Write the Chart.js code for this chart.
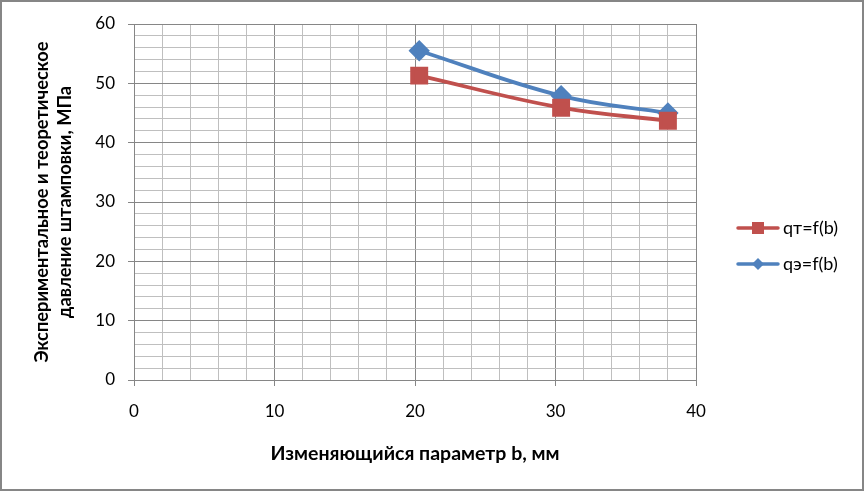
<!DOCTYPE html>
<html>
<head>
<meta charset="utf-8">
<script src="https://cdn.jsdelivr.net/npm/chart.js@4.4.1/dist/chart.umd.min.js"></script>
<style>
  html, body { margin: 0; padding: 0; background: #fff; }
  #wrap { width: 865px; height: 492px; }
</style>
</head>
<body>
<div id="wrap"><canvas id="chart" width="865" height="492"></canvas></div>
<script>
// values
const bValues = [20.3, 30.4, 38.0];
const qT = [51.3, 45.9, 43.7];
const qE = [55.5, 47.9, 45.0];
const seriesNames = ["qт=f(b)", "qэ=f(b)"];
const xTitle = "Изменяющийся параметр b, мм";
const yTitle = ["Экспериментальное и теоретическое", "давление штамповки, МПа"];

const red = "#C0504D";
const blue = "#4F81BD";
const fontFamily = "Lato, 'Open Sans', sans-serif";

function toPoints(xs, ys) {
    return xs.map((x, i) => ({ x: x, y: ys[i] }));
}

// legend drawn like the office one: line with marker in the middle
const legendAndFrame = {
    id: 'legendAndFrame',
    afterDraw(chart) {
        const ctx = chart.ctx;
        ctx.save();
        ctx.strokeStyle = "#868686";
        ctx.lineWidth = 2;
        ctx.strokeRect(1, 1, 862, 489);

        const rows = [228, 264];
        chart.data.datasets.forEach((ds, i) => {
            const y = rows[i];
            ctx.strokeStyle = ds.borderColor;
            ctx.lineWidth = 3.5;
            ctx.lineCap = "round";
            ctx.beginPath();
            ctx.moveTo(738, y);
            ctx.lineTo(778, y);
            ctx.stroke();
            ctx.fillStyle = ds.borderColor;
            if (ds.pointStyle === 'rect') {
                ctx.fillRect(752, y - 6, 12, 12);
            } else {
                ctx.beginPath();
                ctx.moveTo(758, y - 6);
                ctx.lineTo(764, y);
                ctx.lineTo(758, y + 6);
                ctx.lineTo(752, y);
                ctx.closePath();
                ctx.fill();
            }
            ctx.fillStyle = "#000";
            ctx.font = "18px " + fontFamily;
            ctx.textBaseline = "middle";
            ctx.fillText(ds.label, 783, y);
        });
        ctx.restore();
    }
};

const isMajor = v => Math.abs(v % 10) < 1e-6;

const ctx = document.getElementById('chart').getContext('2d');
const chart = new Chart(ctx, {
    type: 'scatter',
    data: {
        datasets: [
            {
                label: seriesNames[0],
                data: toPoints(bValues, qT),
                showLine: true,
                borderColor: red,
                backgroundColor: red,
                borderWidth: 3.8,
                tension: 0.4,
                pointStyle: 'rect',
                pointRadius: 10,
                pointHoverRadius: 10
            },
            {
                label: seriesNames[1],
                data: toPoints(bValues, qE),
                showLine: true,
                borderColor: blue,
                backgroundColor: blue,
                borderWidth: 3.8,
                tension: 0.4,
                pointStyle: 'rectRot',
                pointRadius: 8,
                pointHoverRadius: 8
            }
        ]
    },
    options: {
        responsive: false,
        animation: false,
        layout: { padding: { top: 24, right: 169, left: 0, bottom: 0 } },
        plugins: {
            legend: { display: false },
            tooltip: { enabled: false }
        },
        scales: {
            x: {
                type: 'linear',
                min: 0,
                max: 40,
                afterFit: s => { s.height = 112; },
                ticks: {
                    stepSize: 2,
                    autoSkip: false,
                    maxRotation: 0,
                    padding: 15,
                    color: "#000",
                    font: { family: fontFamily, size: 17 },
                    callback: v => isMajor(v) ? v : ''
                },
                grid: {
                    color: c => isMajor(c.tick.value) ? "#868686" : "#bfbfbf",
                    tickColor: c => isMajor(c.tick.value) ? "#868686" : "rgba(0,0,0,0)",
                    tickLength: 6,
                    lineWidth: 1
                },
                border: { color: "#868686" },
                title: {
                    display: true,
                    text: xTitle,
                    color: "#000",
                    font: { family: fontFamily, size: 19.5, weight: 'bold' },
                    padding: { top: 0, bottom: 27 }
                }
            },
            y: {
                min: 0,
                max: 60,
                afterFit: s => { s.width = 134; },
                ticks: {
                    stepSize: 2,
                    autoSkip: false,
                    padding: 13,
                    color: "#000",
                    font: { family: fontFamily, size: 17 },
                    callback: v => isMajor(v) ? v : ''
                },
                grid: {
                    color: c => isMajor(c.tick.value) ? "#868686" : "#bfbfbf",
                    tickColor: c => isMajor(c.tick.value) ? "#868686" : "rgba(0,0,0,0)",
                    tickLength: 6,
                    lineWidth: 1
                },
                border: { color: "#868686" },
                title: {
                    display: true,
                    text: yTitle,
                    color: "#000",
                    font: { family: fontFamily, size: 18.3, weight: 'bold', lineHeight: 1.25 },
                    padding: { top: 31, bottom: 0 }
                }
            }
        }
    },
    plugins: [legendAndFrame]
});
</script>
</body>
</html>
